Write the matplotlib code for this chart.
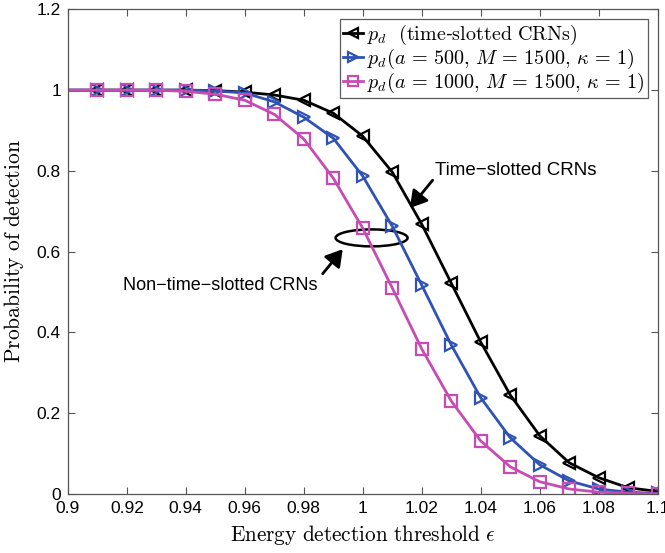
import matplotlib
matplotlib.use("Agg")
import matplotlib.pyplot as plt
from matplotlib.patches import Ellipse

plt.rcParams['mathtext.fontset'] = 'cm'
plt.rcParams['font.family'] = ['Liberation Sans', 'DejaVu Sans']

# energy detection threshold
eps = [0.90, 0.91, 0.92, 0.93, 0.94, 0.95, 0.96, 0.97, 0.98, 0.99, 1.00,
       1.01, 1.02, 1.03, 1.04, 1.05, 1.06, 1.07, 1.08, 1.09, 1.10]

# probability of detection, time-slotted CRNs
pd_ts = [1.0, 1.0, 1.0, 1.0, 1.0, 0.999, 0.995, 0.988, 0.975, 0.943, 0.886,
         0.797, 0.668, 0.522, 0.376, 0.245, 0.144, 0.077, 0.040, 0.015, 0.006]
# a = 500, M = 1500, kappa = 1
pd_a500 = [1.0, 1.0, 1.0, 1.0, 1.0, 0.998, 0.993, 0.971, 0.933, 0.881, 0.787,
           0.663, 0.517, 0.369, 0.238, 0.139, 0.072, 0.032, 0.012, 0.004, 0.001]
# a = 1000, M = 1500, kappa = 1
pd_a1000 = [1.0, 1.0, 1.0, 1.0, 0.997, 0.990, 0.975, 0.940, 0.879, 0.782, 0.658,
            0.510, 0.359, 0.230, 0.131, 0.067, 0.030, 0.012, 0.004, 0.001, 0.0]

labels = [r'$p_d\ \ \mathrm{(time}$-$\mathrm{slotted\ CRNs)}$',
          r'$p_d(a\,=\,500,\,M\,=\,1500,\,\kappa\,=\,1)$',
          r'$p_d(a\,=\,1000,\,M\,=\,1500,\,\kappa\,=\,1)$']

xticks = [0.9, 0.92, 0.94, 0.96, 0.98, 1.0, 1.02, 1.04, 1.06, 1.08, 1.1]
xticklabels = ['0.9', '0.92', '0.94', '0.96', '0.98', '1', '1.02', '1.04',
               '1.06', '1.08', '1.1']
yticks = [0, 0.2, 0.4, 0.6, 0.8, 1.0, 1.2]
yticklabels = ['0', '0.2', '0.4', '0.6', '0.8', '1', '1.2']

fig = plt.figure(figsize=(6.65, 5.53), dpi=100)
ax = fig.add_axes([0.102, 0.107, 0.887, 0.876])

blue = '#2f52b4'
mag = '#c64cb4'
common = dict(lw=2.0, ms=9, mew=1.6, mfc='none', markevery=slice(1, None))
ax.plot(eps, pd_ts, '-<', color='black', label=labels[0], **common)
ax.plot(eps, pd_a500, '->', color=blue, label=labels[1], **common)
ax.plot(eps, pd_a1000, '-s', color=mag, label=labels[2], **common)

ax.set_xlim(0.9, 1.1)
ax.set_ylim(0, 1.2)
ax.set_xticks(xticks)
ax.set_xticklabels(xticklabels)
ax.set_yticks(yticks)
ax.set_yticklabels(yticklabels)
ax.tick_params(direction='in', top=True, right=True, labelsize=12.5,
               length=5, width=0.8, color='#555555', pad=5)
for s in ax.spines.values():
    s.set_color('#555555')
    s.set_linewidth(0.9)

ax.set_xlabel(r'$\mathrm{Energy\ detection\ threshold}\ \epsilon$', fontsize=15.3,
              labelpad=5)
ax.set_ylabel(r'$\mathrm{Probability\ of\ detection}$', fontsize=15.5, labelpad=8)

leg = ax.legend(loc='upper right', fontsize=14.5, frameon=True, fancybox=False,
                borderaxespad=0.5, handlelength=1.0, labelspacing=0.0,
                borderpad=0.15, handletextpad=0.2, markerscale=0.8)
leg.get_frame().set_edgecolor('#333333')
leg.get_frame().set_linewidth(0.9)

# annotations
arrow = dict(arrowstyle='-|>,head_length=0.5,head_width=0.3', color='black',
             lw=2, mutation_scale=20, shrinkA=0, shrinkB=0)
ax.text(1.0244, 0.80, 'Time\u2212slotted CRNs', fontsize=13.5, va='center', ha='left')
ax.annotate('', xy=(1.016, 0.708), xytext=(1.0237, 0.777), arrowprops=arrow)
ax.add_patch(Ellipse((1.003, 0.634), 0.0244, 0.042, fill=False,
                     edgecolor='black', lw=1.8))
ax.text(0.9186, 0.517, 'Non\u2212time\u2212slotted CRNs', fontsize=13,
        va='center', ha='left')
ax.annotate('', xy=(0.9932, 0.606), xytext=(0.9864, 0.545), arrowprops=arrow)

fig.savefig('out.png', dpi=100)
